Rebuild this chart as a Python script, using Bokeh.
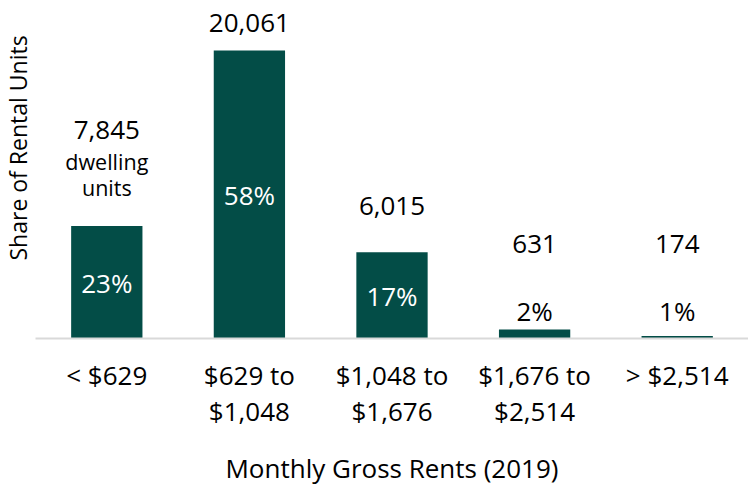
from bokeh.plotting import figure
from bokeh.models import ColumnDataSource, Title
from bokeh.core.properties import value
from bokeh.embed import file_html
from bokeh.resources import INLINE

# ---- data ----
categories = ["< $629", "$629 to\n$1,048", "$1,048 to\n$1,676", "$1,676 to\n$2,514", "> $2,514"]
units = [7845, 20061, 6015, 631, 174]
shares = [22.6, 57.8, 17.3, 1.8, 0.5]          # share of rental units, %
share_labels = ["23%", "58%", "17%", "2%", "1%"]

# ---- style ----
FONT = "Open Sans"
FS = "26px"
BAR = "#034D47"
count_offsets = [-96, -27, -46, -86, -92]       # px above bar top (baseline)

p = figure(x_range=categories, y_range=(0, 67.83), width=748, height=489,
           output_backend="svg", toolbar_location=None, y_axis_location=None,
           min_border_left=35, min_border_right=0, min_border_top=0,
           min_border_bottom=151)
p.outline_line_color = None
p.xgrid.grid_line_color = None
p.ygrid.grid_line_color = None
p.background_fill_color = "white"
p.border_fill_color = "white"

src = ColumnDataSource(dict(cat=categories, share=shares))
p.vbar(x="cat", top="share", width=0.5, source=src, fill_color=BAR, line_color=None)

# count labels above bars
cnt_txt = [f"{u:,}" for u in units]
p.text(x=categories, y=shares, text=cnt_txt, y_offset=count_offsets,
       text_font=value(FONT), text_font_size=FS, text_color="black",
       text_align="center", text_baseline="alphabetic")
# "dwelling units" note under first count
p.text(x=[categories[0], categories[0]], y=[shares[0], shares[0]],
       text=["dwelling", "units"], y_offset=[-64, -38],
       text_font=value(FONT), text_font_size="21.5px", text_color="black",
       text_align="center", text_baseline="alphabetic")

# percentage labels
in_x = [c for c, s in zip(categories, shares) if s > 5]
in_y = [s / 2 for s in shares if s > 5]
in_t = [t for t, s in zip(share_labels, shares) if s > 5]
p.text(x=in_x, y=in_y, text=in_t, y_offset=1,
       text_font=value(FONT), text_font_size=FS, text_color="white",
       text_align="center", text_baseline="middle")
out_x = [c for c, s in zip(categories, shares) if s <= 5]
out_t = [t for t, s in zip(share_labels, shares) if s <= 5]
p.text(x=out_x, y=[0] * len(out_x), text=out_t, y_offset=-28,
       text_font=value(FONT), text_font_size=FS, text_color="black",
       text_align="center", text_baseline="alphabetic")

# x axis
ax = p.xaxis[0]
ax.axis_line_color = "#D9D9D9"
ax.axis_line_width = 2
ax.major_tick_line_color = None
ax.minor_tick_line_color = None
ax.major_label_text_font = FONT
ax.major_label_text_font_size = FS
ax.major_label_text_color = "black"
ax.major_label_text_line_height = 1.0
ax.major_label_standoff = 12
ax.axis_label = "Monthly Gross Rents (2019)"
ax.axis_label_text_font = FONT
ax.axis_label_text_font_size = FS
ax.axis_label_text_font_style = "normal"
ax.axis_label_text_color = "black"
ax.axis_label_standoff = 18

# y axis title
p.add_layout(Title(text="Share of Rental Units", align="left", offset=78,
                   vertical_align="top", standoff=0,
                   text_font=FONT, text_font_size="23px",
                   text_font_style="normal", text_color="black"), "left")

open("out.html", "w").write(file_html(p, INLINE))
